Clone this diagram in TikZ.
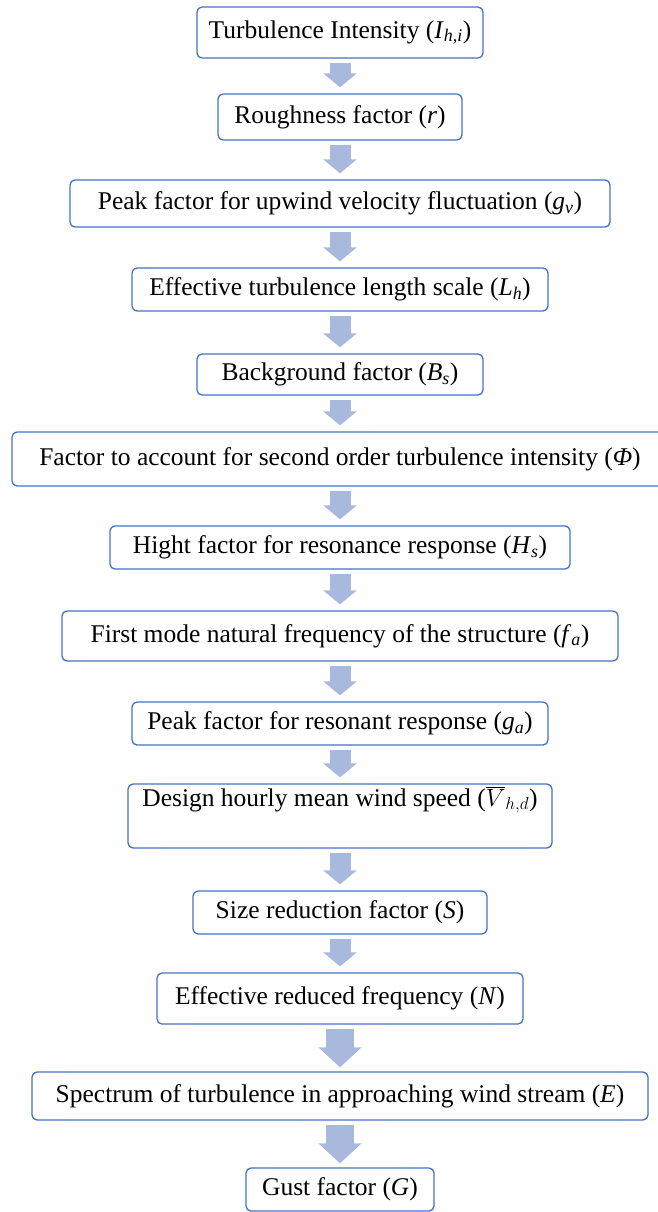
\documentclass[tikz,border=0pt]{standalone}
\usepackage{fontspec}
\setmainfont{Liberation Serif}
\usetikzlibrary{arrows.meta}
\definecolor{boxblue}{HTML}{4472C4}
\definecolor{arrowblue}{HTML}{A9B9DE}
\newcommand{\fsub}[2]{\textit{#1}\textsubscript{\textit{#2}}}
\tikzset{
  factor/.style={draw=boxblue, line width=1.3pt, rounded corners=5pt, fill=white,
    inner sep=0pt, font=\fontsize{25.5}{30}\selectfont},
  flow/.style={draw=arrowblue, line width=21pt, -{Triangle[width=33pt,length=14pt]}},
  bigflow/.style={draw=arrowblue, line width=28pt, -{Triangle[width=42pt,length=20pt]}},
}
\begin{document}
\begin{tikzpicture}[x=1pt,y=-1pt]
  \useasboundingbox (0,0) rectangle (658,1212);
  \node[factor, minimum width=286, minimum height=51] (ti) at (340,32.5) {Turbulence Intensity (\fsub{I}{h,i})};
  \node[factor, minimum width=244, minimum height=46] (rf) at (340,117) {Roughness factor (\textit{r})};
  \node[factor, minimum width=540, minimum height=47] (pv) at (340,203.5) {Peak factor for upwind velocity fluctuation (\fsub{g}{v})};
  \node[factor, minimum width=416, minimum height=43] (lh) at (340,289.5) {Effective turbulence length scale (\fsub{L}{h})};
  \node[factor, minimum width=286, minimum height=41] (bs) at (340,374.5) {Background factor (\fsub{B}{s})};
  \node[factor, minimum width=656, minimum height=54] (phi) at (340,459) {Factor to account for second order turbulence intensity (\textit{Φ})};
  \node[factor, minimum width=460, minimum height=43] (hs) at (340,547.5) {Hight factor for resonance response (\fsub{H}{s})};
  \node[factor, minimum width=556, minimum height=50] (fa) at (340,636) {First mode natural frequency of the structure (\fsub{f}{a})};
  \node[factor, minimum width=416, minimum height=43] (ga) at (340,723.5) {Peak factor for resonant response (\fsub{g}{a})};
  \node[factor, minimum width=424, text height=22pt, text depth=42pt] (vhd) at (340,816) {Design hourly mean wind speed ($\overline{V}_{h,d}$)};
  \node[factor, minimum width=294, minimum height=43] (sr) at (340,912.5) {Size reduction factor (\textit{S})};
  \node[factor, minimum width=366, minimum height=51] (nf) at (340,998.5) {Effective reduced frequency (\textit{N})};
  \node[factor, minimum width=616, minimum height=48] (se) at (340,1096) {Spectrum of turbulence in approaching wind stream (\textit{E})};
  \node[factor, minimum width=188, minimum height=43] (gf) at (340,1189.5) {Gust factor (\textit{G})};
  \draw[flow] ([yshift=-4pt]ti.south) -- ([yshift=6pt]rf.north);
  \draw[flow] ([yshift=-4pt]rf.south) -- ([yshift=6pt]pv.north);
  \draw[flow] ([yshift=-4pt]pv.south) -- ([yshift=6pt]lh.north);
  \draw[flow] ([yshift=-4pt]lh.south) -- ([yshift=6pt]bs.north);
  \draw[flow] ([yshift=-4pt]bs.south) -- ([yshift=6pt]phi.north);
  \draw[flow] ([yshift=-4pt]phi.south) -- ([yshift=6pt]hs.north);
  \draw[flow] ([yshift=-4pt]hs.south) -- ([yshift=6pt]fa.north);
  \draw[flow] ([yshift=-4pt]fa.south) -- ([yshift=6pt]ga.north);
  \draw[flow] ([yshift=-4pt]ga.south) -- ([yshift=6pt]vhd.north);
  \draw[flow] ([yshift=-4pt]vhd.south) -- ([yshift=6pt]sr.north);
  \draw[flow] ([yshift=-4pt]sr.south) -- ([yshift=6pt]nf.north);
  \draw[bigflow] ([yshift=-4pt]nf.south) -- ([yshift=4pt]se.north);
  \draw[bigflow] ([yshift=-4pt]se.south) -- ([yshift=4pt]gf.north);
\end{tikzpicture}
\end{document}
